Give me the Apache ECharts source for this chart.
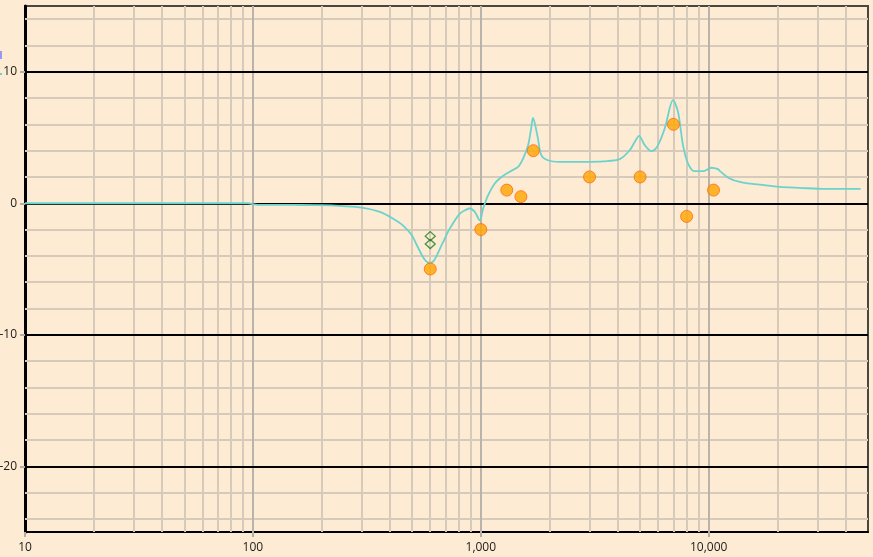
<!DOCTYPE html>
<html>
<head>
<meta charset="utf-8">
<script src="https://cdn.jsdelivr.net/npm/echarts@6/dist/echarts.min.js"></script>
<style>
html,body{margin:0;padding:0;background:#FEEBD3;}
#c{width:873px;height:557px;}
</style>
</head>
<body>
<div id="c"></div>
<script>
// ---- data ----
var curveFreq = [10,50,95,105,150,200,248,301,361,411,455,498,529,568,597,620,641,681,731,809,860,895,941,990,1024,1076,1151,1232,1339,1457,1533,1612,1660,1694,1730,1782,1843,1971,2220,2540,3000,3437,4070,4505,4750,4948,5240,5605,5935,6413,6976,7335,7712,8117,8683,9446,10280,10990,11170,12360,14130,16730,20480,25060,32810,46400];
var curveGain = [0,0,0,-0.12,-0.13,-0.15,-0.22,-0.33,-0.66,-1.16,-1.68,-2.44,-3.33,-4.3,-4.55,-4.4,-3.98,-3.0,-1.93,-0.79,-0.5,-0.4,-0.66,-1.3,-0.4,0.6,1.5,2.0,2.4,2.77,3.4,4.4,5.6,6.5,6.0,4.9,3.66,3.27,3.15,3.15,3.15,3.18,3.35,4.04,4.7,5.13,4.42,3.96,4.29,5.69,7.84,6.95,4.42,3.02,2.44,2.44,2.7,2.59,2.46,1.88,1.57,1.42,1.24,1.17,1.09,1.09];
var pointFreq = [600,1000,1300,1500,1700,3000,5000,7000,8000,10500];
var pointGain = [-5,-2,1,0.5,4,2,2,6,-1,1];
var diamondFreq = [600,600];
var diamondGain = [-2.5,-3.1];
var xTickLabels = [10,100,1000,10000];
var yTickLabels = [-20,-10,0,10];

// ---- build ----
function zip(a,b){return a.map(function(v,i){return [v,b[i]];});}
var minorV = [], majorV = [100,1000,10000];
[10,100,1000,10000].forEach(function(d){
  for (var m=2;m<=9;m++){ var v=d*m; if (v<50000) minorV.push(v); }
});
var minorH = [];
for (var y=-24;y<=14;y+=2){ if (y%10!==0) minorH.push(y); }
var majorH = [-20,-10,0,10];

function ml(list, key, style){ return list.map(function(v){ var o={lineStyle:style}; o[key]=v; return o; }); }
var minorStyle = {color:'#d6cbbb',width:2,type:'solid'};
var majorVStyle = {color:'#bab3ab',width:2,type:'solid'};
var majorHStyle = {color:'#000',width:2,type:'solid'};

var chart = echarts.init(document.getElementById('c'));
chart.setOption({
  animation:false,
  backgroundColor:'#FEEBD3',
  grid:{left:25,right:5,top:6,bottom:25,containLabel:false,outerBoundsMode:'none',show:true,borderColor:'#4a4640',borderWidth:2,backgroundColor:'transparent'},
  xAxis:{
    type:'log',logBase:10,min:10,max:50000,
    axisLine:{show:true,onZero:false,lineStyle:{color:'#000',width:2}},
    axisTick:{show:true,customValues:xTickLabels,length:5,lineStyle:{color:'#b5aea6',width:2}},
    axisLabel:{customValues:xTickLabels,margin:10,color:'#1a1a1a',fontSize:12,fontFamily:'Open Sans, sans-serif',
      formatter:function(v){return Number(v).toLocaleString('en-US');}},
    splitLine:{show:false},minorSplitLine:{show:false}
  },
  yAxis:{
    type:'value',min:-25,max:15,
    axisLine:{show:true,onZero:false,lineStyle:{color:'#000',width:3}},
    axisTick:{show:true,customValues:yTickLabels,length:5,lineStyle:{color:'#b5aea6',width:2}},
    axisLabel:{customValues:yTickLabels,margin:8,color:'#1a1a1a',fontSize:12,fontFamily:'Open Sans, sans-serif'},
    splitLine:{show:false}
  },
  series:[
    {type:'line',z:1,data:[[10,0],[50000,0]],showSymbol:false,lineStyle:{opacity:0},silent:true,
     markLine:{z:1,silent:true,symbol:['none','none'],label:{show:false},animation:false,
       data:[].concat(
         ml(minorV,'xAxis',minorStyle),
         ml(minorH,'yAxis',minorStyle),
         ml(majorV,'xAxis',majorVStyle),
         ml(majorH,'yAxis',majorHStyle)
       )}},
    {type:'line',z:3,data:zip(curveFreq,curveGain),showSymbol:false,smooth:0.3,
     lineStyle:{color:'#6ad3cd',width:1.8}},
    {type:'scatter',z:4,data:zip(pointFreq,pointGain),symbol:'circle',symbolSize:12,
     itemStyle:{color:'#FFA500',borderColor:'#FF6A10',borderWidth:1}},
    {type:'scatter',z:4,data:zip(diamondFreq,diamondGain),symbol:'diamond',symbolSize:[10,9],
     itemStyle:{color:'rgba(0,0,0,0)',borderColor:'#1a7f1a',borderWidth:1.3}}
  ],
  graphic:[
    {type:'rect',left:0,top:51,shape:{width:2,height:8},style:{fill:'#9898f0'}},
    {type:'rect',left:0,top:73,shape:{width:2,height:2},style:{fill:'#6ad3cd'}}
  ]
});
</script>
</body>
</html>
